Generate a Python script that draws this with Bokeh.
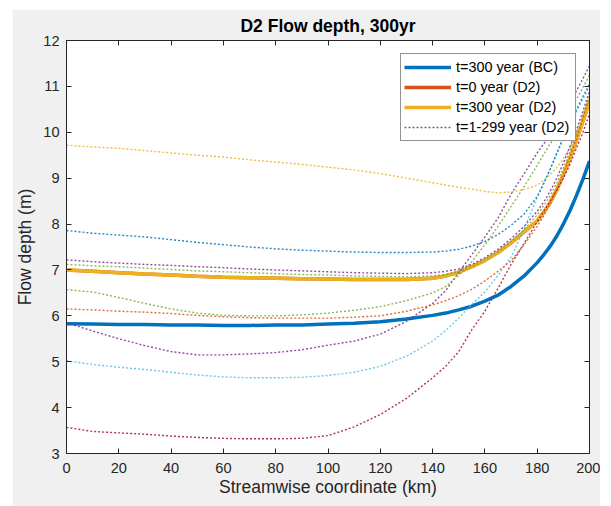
from bokeh.plotting import figure
from bokeh.models import LinearAxis, Legend, LegendItem, FixedTicker, Range1d, Spacer
from bokeh.layouts import column, row
from bokeh.embed import file_html
from bokeh.resources import INLINE

# Streamwise coordinate (km)
km = [0, 10, 20, 30, 40, 50, 60, 70, 80, 90, 100, 110, 120, 130, 140, 145, 150,
      155, 160, 165, 170, 175, 180, 182.5, 185, 187.5, 190, 192.5, 195, 197.5, 200]

# Solid lines
bc_300 = [5.83, 5.82, 5.81, 5.81, 5.80, 5.80, 5.79, 5.79, 5.80, 5.80, 5.82, 5.84, 5.87,
          5.93, 6.01, 6.06, 6.13, 6.21, 6.32, 6.45, 6.64, 6.87, 7.16, 7.33, 7.52, 7.74,
          8.00, 8.29, 8.62, 8.98, 9.37]
d2_0 = [7.00, 6.97, 6.94, 6.91, 6.89, 6.86, 6.84, 6.83, 6.82, 6.81, 6.80, 6.79, 6.79,
        6.79, 6.82, 6.87, 6.95, 7.07, 7.21, 7.38, 7.59, 7.83, 8.07, 8.26, 8.47, 8.75,
        9.07, 9.43, 9.83, 10.24, 10.67]
d2_300 = [7.00, 6.97, 6.94, 6.91, 6.89, 6.86, 6.84, 6.83, 6.82, 6.81, 6.80, 6.79, 6.79,
          6.79, 6.82, 6.87, 6.95, 7.07, 7.21, 7.38, 7.59, 7.83, 8.07, 8.26, 8.47, 8.75,
          9.07, 9.43, 9.83, 10.24, 10.67]

# Dotted intermediate years (t=1-299, D2)
inter_1 = [5.85, 5.67, 5.50, 5.35, 5.22, 5.15, 5.15, 5.17, 5.20, 5.26, 5.36, 5.45, 5.60,
           5.88, 6.27, 6.55, 6.95, 7.33, 7.72, 8.13, 8.65, 9.10, 9.55, 9.75, 9.95, 10.17,
           10.40, 10.65, 10.90, 11.17, 11.45]
inter_2 = [6.57, 6.52, 6.40, 6.27, 6.15, 6.06, 6.01, 6.00, 6.00, 6.02, 6.06, 6.12, 6.20,
           6.33, 6.50, 6.64, 6.88, 7.18, 7.55, 7.95, 8.38, 8.82, 9.28, 9.52, 9.75, 9.98,
           10.22, 10.47, 10.72, 10.98, 11.25]
inter_3 = [5.02, 4.94, 4.88, 4.83, 4.77, 4.71, 4.67, 4.65, 4.65, 4.66, 4.70, 4.77, 4.90,
           5.12, 5.45, 5.68, 5.95, 6.25, 6.52, 6.88, 7.28, 7.90, 8.58, 8.90, 9.20, 9.52,
           9.85, 10.15, 10.45, 10.72, 11.00]
inter_4 = [3.57, 3.48, 3.45, 3.42, 3.38, 3.35, 3.33, 3.32, 3.32, 3.33, 3.39, 3.58, 3.85,
           4.20, 4.65, 4.90, 5.22, 5.70, 6.10, 6.60, 7.12, 7.58, 8.05, 8.27, 8.50, 8.74,
           9.00, 9.30, 9.65, 10.00, 10.40]
inter_5 = [7.86, 7.80, 7.76, 7.72, 7.66, 7.60, 7.55, 7.50, 7.46, 7.43, 7.41, 7.39, 7.38,
           7.38, 7.39, 7.41, 7.45, 7.52, 7.62, 7.77, 7.97, 8.22, 8.60, 8.88, 9.20, 9.55,
           9.90, 10.20, 10.50, 10.78, 11.05]
inter_6 = [6.15, 6.13, 6.10, 6.08, 6.05, 6.01, 5.98, 5.96, 5.95, 5.95, 5.95, 5.97, 6.00,
           6.10, 6.24, 6.33, 6.44, 6.58, 6.76, 6.97, 7.20, 7.55, 7.95, 8.18, 8.45, 8.76,
           9.10, 9.46, 9.85, 10.30, 10.80]
inter_7 = [9.72, 9.68, 9.65, 9.60, 9.55, 9.50, 9.46, 9.40, 9.35, 9.30, 9.24, 9.18, 9.10,
           9.00, 8.90, 8.85, 8.80, 8.76, 8.71, 8.68, 8.70, 8.75, 8.85, 8.95, 9.08, 9.23,
           9.42, 9.67, 9.98, 10.28, 10.60]
inter_8 = [7.22, 7.18, 7.15, 7.12, 7.10, 7.07, 7.05, 7.02, 7.00, 6.98, 6.96, 6.94, 6.93,
           6.92, 6.94, 6.97, 7.02, 7.12, 7.27, 7.45, 7.68, 7.95, 8.28, 8.48, 8.72, 9.00,
           9.33, 9.68, 10.05, 10.46, 10.90]
inter_9 = [7.12, 7.09, 7.07, 7.04, 7.01, 6.98, 6.96, 6.94, 6.92, 6.90, 6.89, 6.87, 6.86,
           6.85, 6.87, 6.90, 6.96, 7.07, 7.22, 7.40, 7.62, 7.88, 8.20, 8.40, 8.62, 8.90,
           9.22, 9.58, 9.97, 10.38, 10.80]

x_ticks = [0, 20, 40, 60, 80, 100, 120, 140, 160, 180, 200]
y_ticks = [3, 4, 5, 6, 7, 8, 9, 10, 11, 12]

BLUE, ORANGE, YELLOW = "#0072BD", "#D95319", "#EDB120"
PURPLE, GREEN, LBLUE, DRED = "#7E2F8E", "#77AC30", "#4DBEEE", "#A2142F"
FONT = "Liberation Sans"
AXC = "#262626"

p = figure(width=588, height=497, x_range=Range1d(0, 200), y_range=Range1d(3, 12),
           output_backend="svg", toolbar_location=None, title="D2 Flow depth, 300yr",
           min_border_left=52, min_border_right=11, min_border_top=30, min_border_bottom=53)
p.border_fill_color = "#f0f0f0"
p.background_fill_color = "white"
p.outline_line_color = AXC
p.xgrid.visible = False
p.ygrid.visible = False

p.title.align = "center"
p.title.text_font = FONT
p.title.text_font_size = "17.5px"
p.title.text_font_style = "bold"
p.title.text_color = "#000000"
p.title.standoff = 9

for ax in (p.xaxis[0], p.yaxis[0]):
    ax.major_label_text_font = FONT
    ax.major_label_text_font_size = "14.6px"
    ax.major_label_text_color = AXC
    ax.axis_label_text_font = FONT
    ax.axis_label_text_font_size = "17.5px"
    ax.axis_label_text_font_style = "normal"
    ax.axis_label_text_color = AXC
    ax.axis_line_color = AXC
    ax.major_tick_line_color = AXC
    ax.major_tick_in = 5
    ax.major_tick_out = 0
    ax.minor_tick_line_color = None

p.xaxis[0].ticker = FixedTicker(ticks=x_ticks)
p.yaxis[0].ticker = FixedTicker(ticks=y_ticks)
p.xaxis[0].axis_label = "Streamwise coordinate (km)"
p.yaxis[0].axis_label = "Flow depth (m)"
p.xaxis[0].major_label_standoff = 9
p.xaxis[0].axis_label_standoff = 1
p.yaxis[0].major_label_standoff = 7
p.yaxis[0].axis_label_standoff = 5

top_ax = LinearAxis(ticker=FixedTicker(ticks=x_ticks), major_label_text_font_size="0px",
                    major_label_text_color=None,
                    major_label_standoff=0, axis_line_color=AXC, major_tick_line_color=AXC,
                    major_tick_in=5, major_tick_out=0, minor_tick_line_color=None)
right_ax = LinearAxis(ticker=FixedTicker(ticks=y_ticks), major_label_text_font_size="0px",
                      major_label_text_color=None,
                      major_label_standoff=0, axis_line_color=AXC, major_tick_line_color=AXC,
                      major_tick_in=5, major_tick_out=0, minor_tick_line_color=None)
p.add_layout(top_ax, "above")
p.add_layout(right_ax, "right")

SW = 3.5
r_bc = p.line(km, bc_300, line_color=BLUE, line_width=SW)
r_d0 = p.line(km, d2_0, line_color=ORANGE, line_width=SW)
r_d300 = p.line(km, d2_300, line_color=YELLOW, line_width=SW)

dotted = [(inter_1, PURPLE), (inter_2, GREEN), (inter_3, LBLUE), (inter_4, DRED),
          (inter_5, BLUE), (inter_6, ORANGE), (inter_7, YELLOW), (inter_8, PURPLE),
          (inter_9, GREEN)]
dot_rs = []
for vals, col in dotted:
    dot_rs.append(p.line(km, vals, line_color=col, line_width=1.4, line_dash="2 2",
                         line_alpha=0.85))

legend = Legend(items=[
    LegendItem(label="t=300 year (BC)", renderers=[r_bc]),
    LegendItem(label="t=0 year (D2)", renderers=[r_d0]),
    LegendItem(label="t=300 year (D2)", renderers=[r_d300]),
    LegendItem(label="t=1-299 year (D2)", renderers=[dot_rs[0]]),
], location="top_right")
legend.glyph_width = 47
legend.glyph_height = 20
legend.label_height = 20
legend.label_width = 116
legend.label_standoff = 5
legend.padding = 3
legend.spacing = 0
legend.margin = 13
legend.border_line_color = AXC
legend.border_line_width = 1
legend.background_fill_color = "white"
legend.background_fill_alpha = 1
legend.label_text_font = FONT
legend.label_text_font_size = "14.4px"
legend.label_text_color = "#000000"
p.add_layout(legend)

layout = column(Spacer(height=9), row(Spacer(width=12), p))
open("out.html", "w").write(file_html(layout, INLINE))
